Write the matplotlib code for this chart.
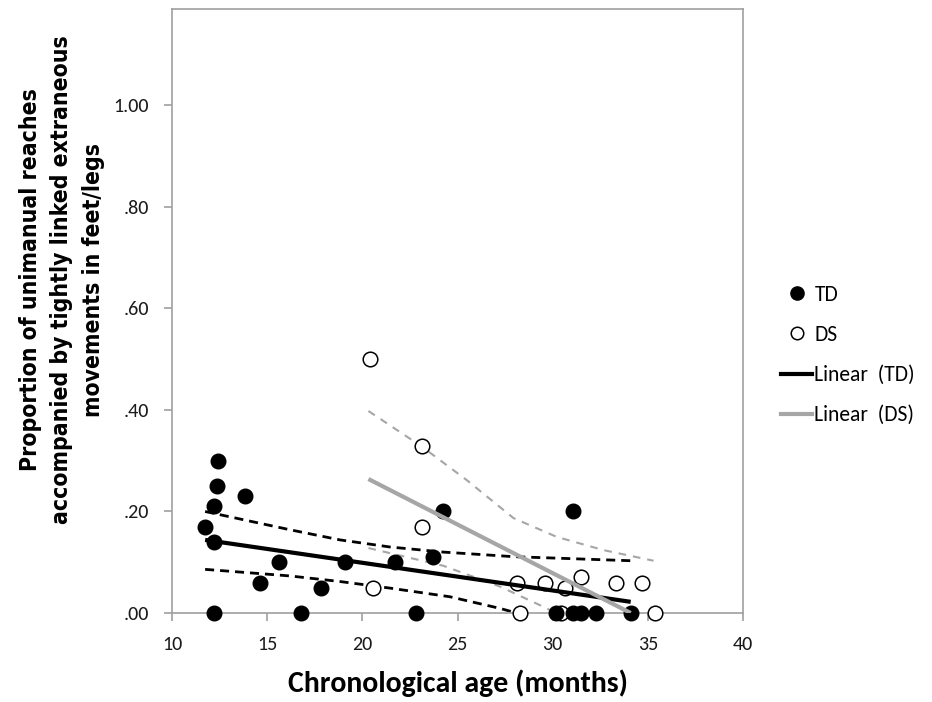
import matplotlib
matplotlib.use("Agg")
import matplotlib.pyplot as plt
from matplotlib.lines import Line2D
from matplotlib import font_manager as fm

# ---------------- data ----------------
td_age = [12.44, 12.37, 12.23, 13.84, 11.74, 12.20, 15.64, 14.63, 17.83, 19.10,
          21.72, 24.26, 23.70, 12.20, 16.80, 22.84, 31.09, 30.18, 31.09, 31.50,
          32.30, 34.12]
td_prop = [0.30, 0.25, 0.21, 0.23, 0.17, 0.14, 0.10, 0.06, 0.05, 0.10,
           0.10, 0.20, 0.11, 0.00, 0.00, 0.00, 0.20, 0.00, 0.00, 0.00,
           0.00, 0.00]

ds_age = [20.38, 23.12, 23.12, 20.58, 28.12, 29.60, 30.65, 31.47, 33.32, 34.68,
          28.29, 30.45, 35.38]
ds_prop = [0.50, 0.33, 0.17, 0.05, 0.06, 0.06, 0.05, 0.07, 0.06, 0.06,
           0.00, 0.00, 0.00]

# linear trend lines
td_fit_x = [11.74, 34.10]
td_fit_y = [0.144, 0.022]
ds_fit_x = [20.32, 34.10]
ds_fit_y = [0.264, 0.000]

# confidence bands
td_up_x = [11.74, 16.20, 18.83, 21.46, 24.26, 27.94, 34.10]
td_up_y = [0.200, 0.164, 0.144, 0.130, 0.120, 0.111, 0.103]
td_lo_x = [11.74, 16.20, 18.83, 21.46, 24.60, 27.24, 28.10]
td_lo_y = [0.086, 0.073, 0.062, 0.049, 0.032, 0.009, 0.000]

ds_up_x = [20.32, 23.12, 25.48, 27.94, 30.21, 32.66, 35.30]
ds_up_y = [0.398, 0.328, 0.262, 0.187, 0.150, 0.124, 0.103]
ds_lo_x = [20.32, 24.26, 27.24, 29.70, 30.10]
ds_lo_y = [0.128, 0.093, 0.052, 0.009, 0.000]

x_ticks = [10, 15, 20, 25, 30, 35, 40]
y_ticks = [0.0, 0.2, 0.4, 0.6, 0.8, 1.0]
y_tick_labels = [".00", ".20", ".40", ".60", ".80", "1.00"]

# ---------------- fonts ----------------
avail = {f.name for f in fm.fontManager.ttflist}
body_font = "Carlito" if "Carlito" in avail else "Lato"

narrow = None
for f in fm.fontManager.ttflist:
    nm = f.name.lower()
    w = f.weight if isinstance(f.weight, int) else (700 if 'bold' in str(f.weight) else 400)
    if ('narrow' in nm or 'condensed' in str(f.stretch) or 'condensed' in nm) and w >= 600 \
            and f.style == 'normal' and ('sans' in nm or 'arial' in nm):
        if narrow is None or 'liberation' in nm:
            narrow = f
if narrow is not None and 'narrow' in narrow.name.lower():
    ylab_prop = fm.FontProperties(fname=narrow.fname, size=20.5)
    ylab_spacing = 1.12
elif narrow is not None:
    ylab_prop = fm.FontProperties(fname=narrow.fname, size=16.5)
    ylab_spacing = 1.45
else:
    ylab_prop = fm.FontProperties(family="Liberation Sans", weight="bold", size=17)
    ylab_spacing = 1.38

plt.rcParams['lines.scale_dashes'] = False

fig = plt.figure(figsize=(9.32, 7.02), dpi=100)
ax = fig.add_axes([172/932, 1-613/702, (743-172)/932, (613-9)/702])

gray = "#a6a6a6"
axis_gray = "#a0a0a0"

# CI lines
ax.plot(td_up_x, td_up_y, color="black", lw=2.0, dashes=(6.5, 4.3), zorder=2)
ax.plot(td_lo_x, td_lo_y, color="black", lw=2.0, dashes=(6.5, 4.3), zorder=2)
ax.plot(ds_up_x, ds_up_y, color=gray, lw=1.5, dashes=(5.5, 5.0), zorder=2)
ax.plot(ds_lo_x, ds_lo_y, color=gray, lw=1.5, dashes=(5.5, 5.0), zorder=2)

# points
ax.plot(td_age, td_prop, 'o', ms=10.5, mfc="black", mec="black", zorder=4, clip_on=False)
ax.plot(ds_age, ds_prop, 'o', ms=10.5, mfc="white", mec="black", mew=1.1, zorder=3, clip_on=False)

# fit lines
ax.plot(td_fit_x, td_fit_y, color="black", lw=3.0, solid_capstyle='butt', zorder=5)
ax.plot(ds_fit_x, ds_fit_y, color=gray, lw=3.0, solid_capstyle='butt', zorder=5)

ax.set_xlim(10, 40)
ax.set_ylim(0, 1.19)
ax.set_xticks(x_ticks)
ax.set_yticks(y_ticks)
ax.set_yticklabels(y_tick_labels)
for s in ax.spines.values():
    s.set_color(axis_gray)
    s.set_linewidth(1.2)
ax.tick_params(axis='both', direction='out', length=5.5, width=1.2, color=axis_gray,
               labelsize=14.5, labelcolor="#1a1a1a")
ax.tick_params(axis='y', pad=11)
ax.tick_params(axis='x', pad=11)
for lab in ax.get_xticklabels() + ax.get_yticklabels():
    lab.set_fontfamily(body_font)

ax.set_xlabel("Chronological age (months)", fontsize=21.5, fontweight="bold",
              fontfamily=body_font, labelpad=12)

fig.text(62/932, 1-280/702,
         "Proportion of unimanual reaches\naccompanied by tightly linked extraneous\nmovements in feet/legs",
         rotation=90, ha="center", va="center", multialignment="center",
         fontproperties=ylab_prop, fontweight="bold", linespacing=ylab_spacing)

handles = [
    Line2D([], [], ls='none', marker='o', ms=9.5, mfc='black', mec='black'),
    Line2D([], [], ls='none', marker='o', ms=9.0, mfc='white', mec='black', mew=1.1),
    Line2D([], [], color='black', lw=3.0),
    Line2D([], [], color=gray, lw=3.0),
]
labels = ["TD", "DS", "Linear  (TD)", "Linear  (DS)"]
fig.legend(handles, labels, loc="upper left", bbox_to_anchor=(781/932, 1-285/702),
           frameon=False, prop={'family': body_font, 'size': 15.5},
           handlelength=1.45, handletextpad=0.1, labelspacing=0.93, borderpad=0,
           borderaxespad=0)

fig.savefig("out.png", dpi=100, facecolor="white")
